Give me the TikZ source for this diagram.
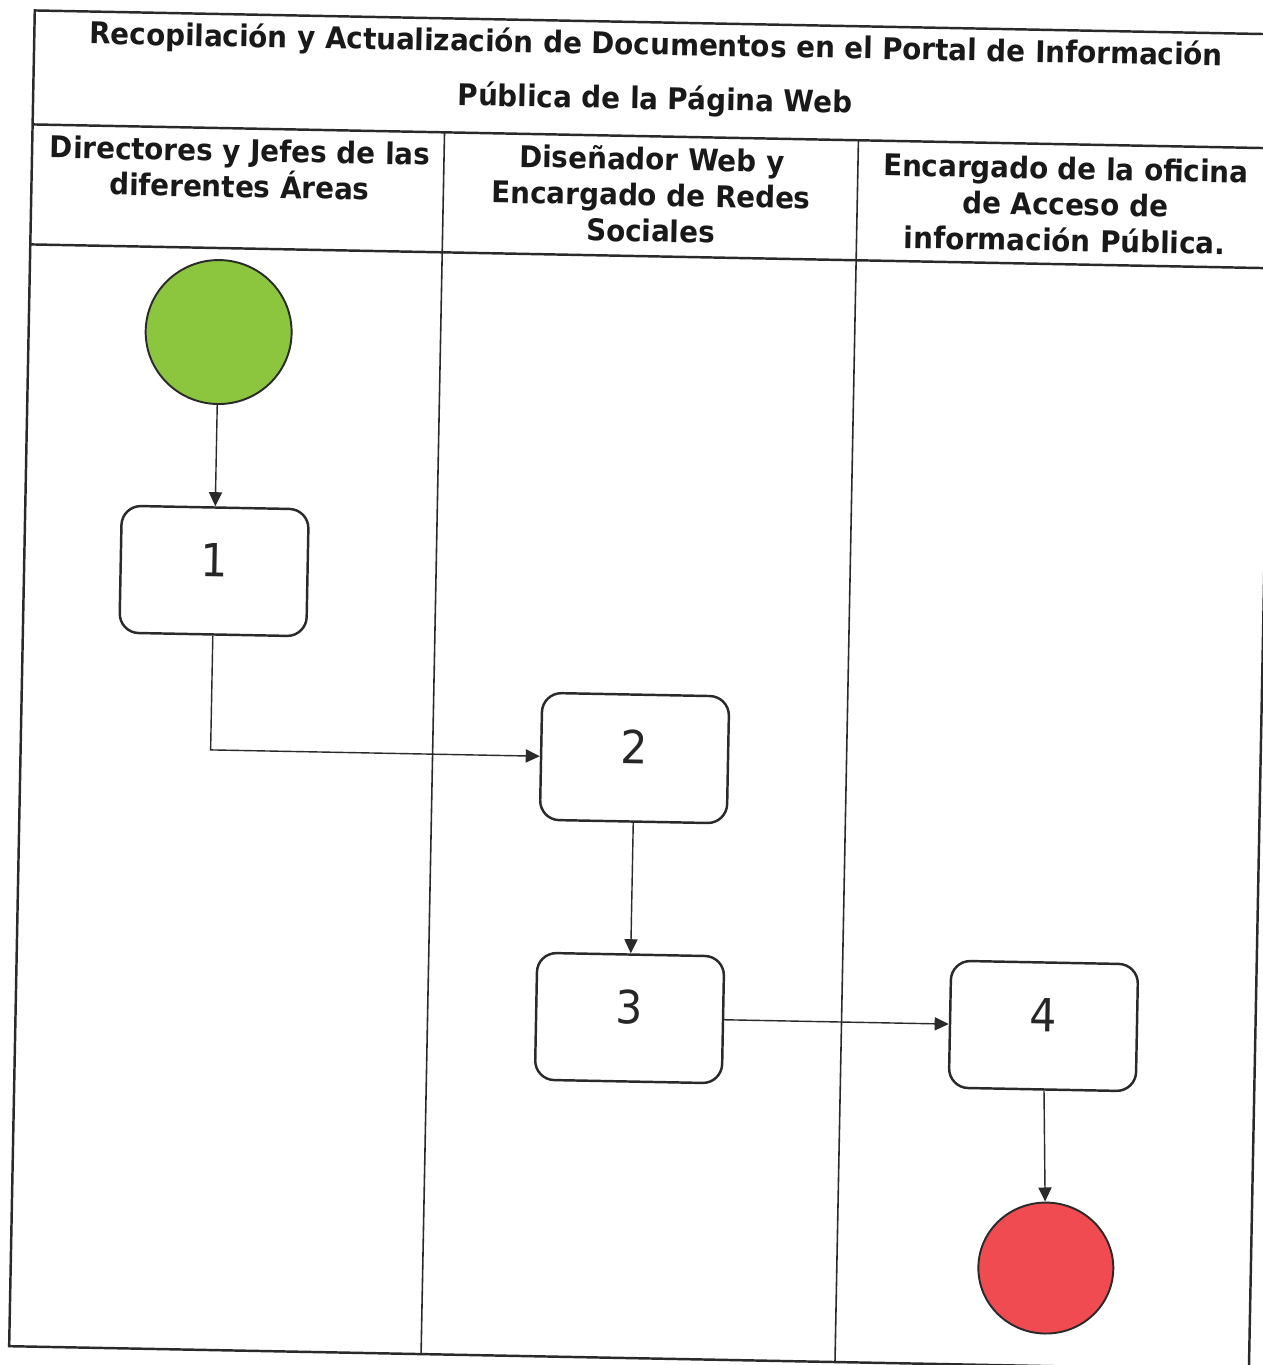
\documentclass[tikz,border=0pt]{standalone}
\usepackage{fontspec}
\usetikzlibrary{arrows.meta,shapes.geometric}
\newfontfamily\hdrfont[FakeStretch=0.93]{DejaVu Sans}
\newfontfamily\numfont[FakeStretch=0.93]{DejaVu Sans}
\definecolor{ink}{HTML}{2A2A2A}
\definecolor{startgreen}{HTML}{8CC63F}
\definecolor{endred}{HTML}{F14B52}
\begin{document}
\begin{tikzpicture}[x=0.02cm,y=-0.02cm,
  frame/.style={draw=ink,line width=1.4pt},
  lanediv/.style={draw=ink,line width=0.9pt},
  stepbox/.style={draw=ink,line width=1.4pt,rounded corners=11pt,minimum width=3.74cm,minimum height=2.54cm,fill=white,font=\numfont\fontsize{26pt}{26pt}\selectfont,text=black!85,text height=19pt,text depth=12.5pt},
  flow/.style={draw=ink,line width=0.8pt,-{Triangle[length=8pt,width=7.5pt]}},
  hdr/.style={font=\hdrfont\bfseries\fontsize{17pt}{20.5pt}\selectfont,align=center,inner sep=0pt,text=black!90},
  terminal/.style={ellipse,draw=ink,line width=1.1pt,inner sep=0pt},
]
\useasboundingbox (0,0) rectangle (1263,1365);
\clip (0,0) rectangle (1263,1365);
\fill[white] (0,0) rectangle (1263,1365);
\begin{scope}[rotate around={-1.1:(631,682)},transform shape]
  % frame and lanes
  \draw[frame] (22,22) rectangle (1262,1358);
  \draw[frame] (22,136) -- (1262,136);
  \draw[frame] (22,256) -- (1262,256);
  \draw[lanediv] (434,136) -- (434,1358);
  \draw[lanediv] (848,136) -- (848,1358);
  % headers
  \node[hdr] (title) at (644,73) {Recopilación y Actualización de Documentos en el Portal de Información\\[10.5pt]Pública de la Página Web};
  \node[hdr,anchor=north] (lane1) at (230,146) {Directores y Jefes de las\\diferentes Áreas};
  \node[hdr,anchor=north] (lane2) at (642,146) {Diseñador Web y\\Encargado de Redes\\Sociales};
  \node[hdr,anchor=north] (lane3) at (1056,148) {Encargado de la oficina\\de Acceso de\\información Pública.};
  % flow nodes
  \node[terminal,fill=startgreen,minimum width=2.92cm,minimum height=2.88cm] (start) at (212,340) {};
  \node[stepbox] (b1) at (212,579) {1};
  \node[stepbox] (b2) at (636,758) {2};
  \node[stepbox] (b3) at (636,1018) {3};
  \node[stepbox] (b4) at (1050,1018) {4};
  \node[terminal,fill=endred,minimum width=2.7cm,minimum height=2.62cm] (finish) at (1057,1260) {};
  % connectors
  \draw[flow] (start) -- (b1);
  \draw[flow] (b1.south) |- (b2.west);
  \draw[flow] (b2) -- (b3);
  \draw[flow] (b3) -- (b4);
  \draw[flow] (b4) -- (finish);
\end{scope}
\end{tikzpicture}
\end{document}
